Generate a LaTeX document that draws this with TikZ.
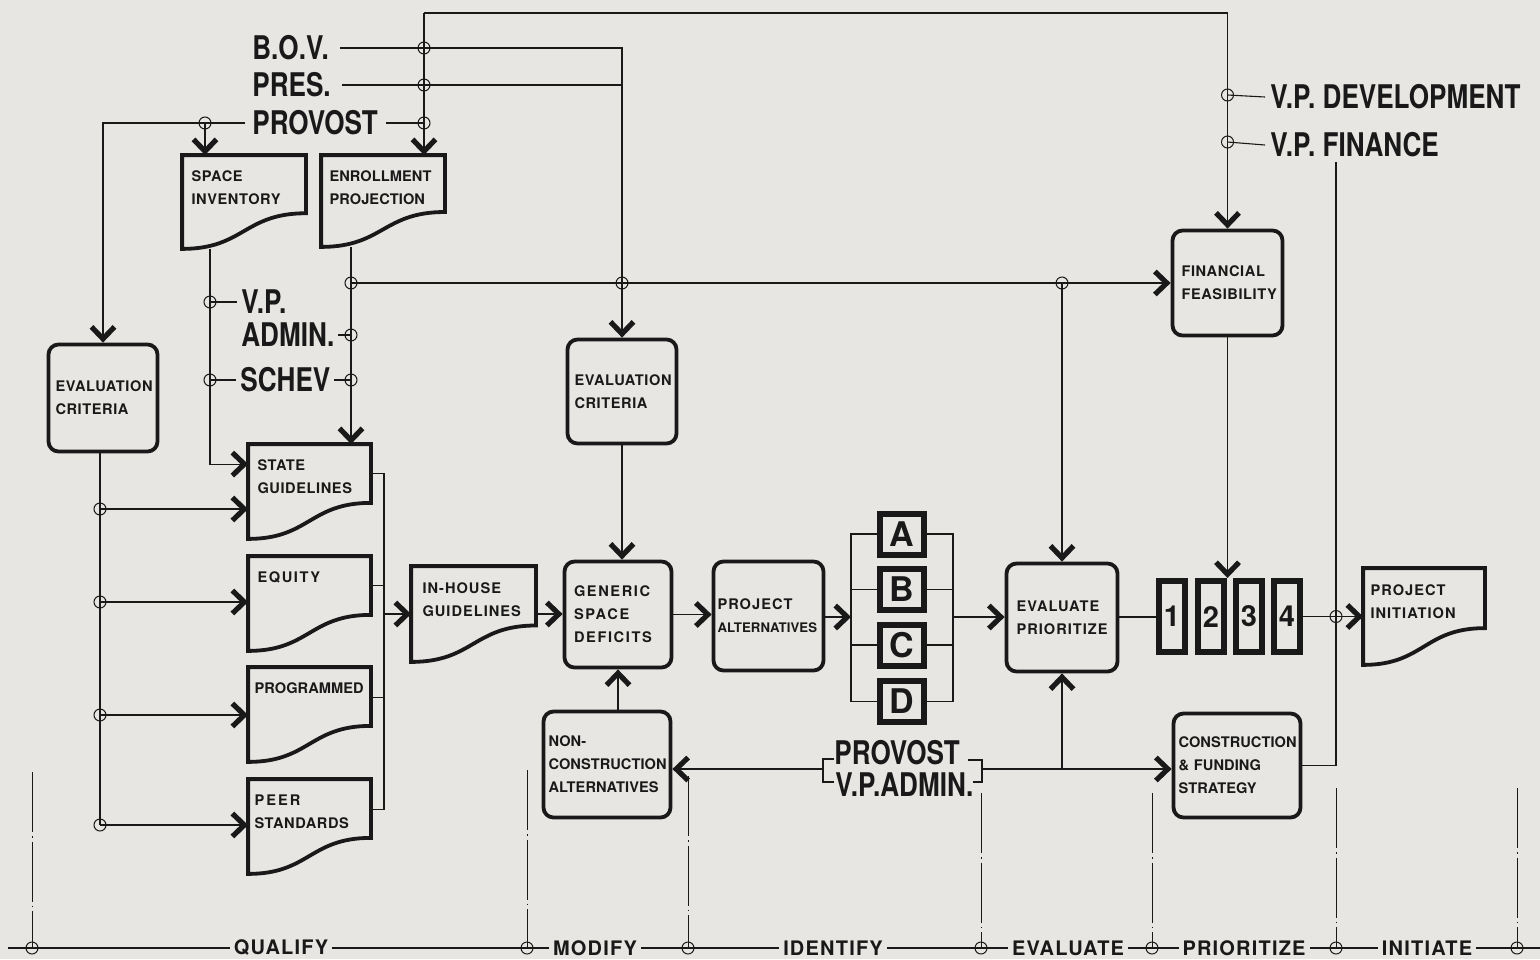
\documentclass[tikz,border=0pt]{standalone}
\usepackage{fontspec}
\setmainfont{TeX Gyre Heros}
\newfontfamily\bigf[FakeStretch=0.8]{TeX Gyre Heros}
\newfontfamily\boxf[LetterSpace=4]{TeX Gyre Heros}
\newfontfamily\boxw[LetterSpace=11]{TeX Gyre Heros}
\newfontfamily\boxm[LetterSpace=7]{TeX Gyre Heros}
\newfontfamily\boxt[LetterSpace=0.5]{TeX Gyre Heros}
\newfontfamily\phf[LetterSpace=6]{TeX Gyre Heros}
\usetikzlibrary{arrows.meta,calc}
\definecolor{bg}{RGB}{231,230,226}
\definecolor{ink}{RGB}{25,25,25}
\newcommand\docpath[1]{%
 \path ($(#1.north east)!0.62!(#1.south east)$) coordinate (#1-r)
       ($(#1.north west)!0.5!(#1.north east)$) coordinate (#1-m);
 \draw[docl] (#1.north west) -- (#1.north east) -- (#1-r)
   .. controls (#1-m |- #1-r) and (#1-m |- #1.south) .. (#1.south west) -- cycle;}
\begin{document}
\begin{tikzpicture}[x=0.5pt,y=-0.5pt,
 conn/.style={draw=ink, line width=0.55pt},
 arr/.style={-{Straight Barb[length=6pt,width=11.5pt,line width=2.6pt]}},
 fn/.style={font=\boxf\bfseries\fontsize{7.3}{11.5}\selectfont},
 fw/.style={font=\boxw\bfseries\fontsize{7.3}{11.5}\selectfont},
 fm/.style={font=\boxm\bfseries\fontsize{7.3}{11.5}\selectfont},
 ft/.style={font=\boxt\bfseries\fontsize{7.3}{11.5}\selectfont},
 bx/.style={draw=ink, line width=1.9pt, rounded corners=5pt, inner sep=0pt, align=left, text=ink},
 docn/.style={inner sep=0pt, draw=none},
 docl/.style={draw=ink, line width=1.9pt, line join=miter},
 lbl/.style={inner sep=0pt, align=left, text=ink, anchor=north west},
 big/.style={inner sep=0pt, anchor=west, font=\bigf\bfseries\fontsize{16.3}{14}\selectfont, text=ink},
 jn/.style={circle, draw=ink, line width=0.5pt, minimum size=6pt, inner sep=0pt},
 sq/.style={draw=ink, line width=3pt, inner sep=0pt, minimum width=22pt, minimum height=20.5pt, font=\bfseries\fontsize{17}{17}\selectfont, text=ink},
 nb/.style={draw=ink, line width=3pt, inner sep=0pt, minimum width=13pt, minimum height=35.5pt, font=\bfseries\fontsize{14.5}{14.5}\selectfont, text=ink},
 phase/.style={fill=bg, inner xsep=2pt, inner ysep=1pt, font=\phf\bfseries\fontsize{10}{12}\selectfont, text=ink},
 sep/.style={draw=ink, line width=0.5pt, dash pattern=on 30pt off 2pt on 0.8pt off 2pt},
]
\fill[bg] (0,0) rectangle (1540,959);
\useasboundingbox (0,0) rectangle (1540,959);

% ---------- big labels ----------
\node[big] (bov) at (252,48) {B.O.V.};
\node[big] (pres) at (252,85) {PRES.};
\node[big] (provt) at (252,123) {PROVOST};
\node[big] (vpa) at (241,302) {V.P.};
\node[big] (adm) at (241,335) {ADMIN.};
\node[big] (schev) at (240,380) {SCHEV};
\node[big] (vpdev) at (1270,97) {V.P\kern-1.2pt. DEVELOPMENT};
\node[big] (vpfin) at (1270,145) {V.P\kern-1.2pt. FINANCE};
\node[big] (bprov) at (834,753) {PROVOST};
\node[big] (bvpa) at (835,785) {V.P.ADMIN.};

% ---------- rounded boxes ----------
\node[bx, fn, minimum width=54.5pt, minimum height=53.5pt, text width=47.5pt] (ec1) at (103,398) {EVALUATION\\CRITERIA};
\node[bx, fn, minimum width=54.5pt, minimum height=52pt, text width=47.5pt] (ec2) at (622,391.5) {EVALUATION\\CRITERIA};
\node[bx, fw, minimum width=53.5pt, minimum height=53pt, text width=44pt] (gsd) at (618,614.5) {GENERIC\\SPACE\\DEFICITS};
\node[bx, fm, minimum width=55pt, minimum height=54.5pt, text width=51pt] (pa) at (768.5,616) {PROJECT\\{\boxt\fontsize{6.6}{11.5}\selectfont ALTERNATIVES}};
\node[bx, fm, minimum width=55.5pt, minimum height=54pt, text width=45.5pt] (evp) at (1062,617.5) {EVALUATE\\PRIORITIZE};
\node[bx, fn, minimum width=55pt, minimum height=52.5pt, text width=46pt] (ff) at (1227.5,283) {FINANCIAL\\FEASIBILITY};
\node[bx, ft, minimum width=63.5pt, minimum height=52pt, text width=58.5pt] (cfs) at (1237,765.5) {CONSTRUCTION\\\& FUNDING\\STRATEGY};
\node[bx, ft, minimum width=63.5pt, minimum height=53pt, text width=58.5pt] (nca) at (607,764.5) {NON-\\CONSTRUCTION\\ALTERNATIVES};

% ---------- document shapes ----------
\node[docn, minimum width=61.5pt, minimum height=46.5pt] (si) at (244,202) {};
\node[docn, minimum width=61.5pt, minimum height=45.5pt] (ep) at (383,201) {};
\node[docn, minimum width=61pt, minimum height=47pt] (sg) at (309.5,491.5) {};
\node[docn, minimum width=61pt, minimum height=47pt] (eq) at (309.5,603.5) {};
\node[docn, minimum width=61pt, minimum height=47pt] (pr) at (309.5,714.5) {};
\node[docn, minimum width=61pt, minimum height=47pt] (ps) at (309.5,826.5) {};
\node[docn, minimum width=62pt, minimum height=47.5pt] (ih) at (473.5,614) {};
\node[docn, minimum width=60.5pt, minimum height=48pt] (pi) at (1424,616.5) {};
\foreach \d in {si,ep,sg,eq,pr,ps,ih,pi} {\docpath{\d}}
\node[lbl, fn] (si-t) at ([xshift=4.5pt,yshift=-7.5pt]si.north west) {SPACE\\INVENTORY};
\node[lbl, ft] (ep-t) at ([xshift=4pt,yshift=-7.5pt]ep.north west) {ENROLLMENT\\PROJECTION};
\node[lbl, fn] (sg-t) at ([xshift=4.5pt,yshift=-7.5pt]sg.north west) {STATE\\GUIDELINES};
\node[lbl, fw] (eq-t) at ([xshift=4.5pt,yshift=-7.5pt]eq.north west) {EQUITY};
\node[lbl, ft] (pr-t) at ([xshift=3pt,yshift=-7.5pt]pr.north west) {PROGRAMMED};
\node[lbl, fn] (ps-t) at ([xshift=3pt,yshift=-7.5pt]ps.north west) {\addfontfeature{LetterSpace=14}PEER\\STANDARDS};
\node[lbl, fm] (ih-t) at ([xshift=5.5pt,yshift=-8pt]ih.north west) {IN-HOUSE\\GUIDELINES};
\node[lbl, fm] (pi-t) at ([xshift=3.5pt,yshift=-8pt]pi.north west) {PROJECT\\INITIATION};

% ---------- A-D and 1-4 ----------
\node[sq] (a) at (902,534) {A};
\node[sq] (b) at (902,589.5) {B};
\node[sq] (c) at (902,645) {C};
\node[sq] (d) at (902,701.5) {D};
\node[nb] (n1) at (1172,616.5) {1};
\node[nb] (n2) at (1211,616.5) {2};
\node[nb] (n3) at (1249,616.5) {3};
\node[nb] (n4) at (1287,616.5) {4};

% ---------- junction circles ----------
\foreach \n/\x/\y in {j424a/424/48, j424b/424/85, j424c/424/123, j206/205/123,
  j210a/210/302, j210b/210/380, j351a/351/335, j351b/351/380, j351c/351/283,
  j622/622/283, j1062/1062/283, jd/1227.5/95, jf/1227.5/142,
  jq1/100/509, jq2/100/602, jq3/100/715, jq4/100/825, jpi/1336/616.5}
  \node[jn] (\n) at (\x,\y) {};

% ---------- connectors: top ----------
\coordinate (t424) at (424,13);
\draw[conn,arr] (t424) -- (t424 |- ep.north);
\draw[conn,arr] (t424) -| (ff.north);
\draw[conn,arr] ([xshift=5.5pt]bov.east) -| (ec2.north);
\draw[conn] ([xshift=5.5pt]pres.east) -- (pres.east -| ec2.north);
\draw[conn] ([xshift=4pt]provt.east) -- (j424c.center);
\draw[conn,arr] ([xshift=-3.5pt]provt.west) -| (ec1.north);
\draw[conn,arr] (j206.center) -- (j206 |- si.north);
\draw[conn,arr] (j210a |- si.south) |- ([yshift=-10pt]sg.north west);
\draw[conn] (j210a.center) -- ([xshift=-2pt]vpa.west);
\draw[conn] ([xshift=1.5pt]adm.east) -- (j351a.center);
\draw[conn] (j210b.center) -- ([xshift=-2pt]schev.west);
\draw[conn] ([xshift=1.5pt]schev.east) -- (j351b.center);
\draw[conn,arr] (j351c |- ep.south) -- (j351c |- sg.north);
\draw[conn,arr] (j351c.center) -- (ff.west);
\draw[conn,arr] (j1062.center) -- (evp.north);
\draw[conn,arr] (ec2.south) -- (ec2.south |- gsd.north);
\draw[conn] (jd.center) -- ([xshift=-2.5pt]vpdev.west);
\draw[conn] (jf.center) -- ([xshift=-2.5pt]vpfin.west);

% ---------- left column ----------
\draw[conn] (jq1 |- ec1.south) -- (jq4.center);
\foreach \j/\d in {jq1/sg, jq2/eq, jq3/pr, jq4/ps}
  \draw[conn,arr] (\j.center) -- (\j -| \d.west);
\coordinate (sgo) at ([yshift=-14.5pt]sg.north east);
\coordinate (eqo) at ([yshift=-14.5pt]eq.north east);
\coordinate (pro) at ([yshift=-15pt]pr.north east);
\coordinate (pso) at ([yshift=-15pt]ps.north east);
\coordinate (qb) at (384,614);
\draw[conn] (sgo) -| (qb |- pso) -- (pso);
\draw[conn] (eqo) -- (eqo -| qb);
\draw[conn] (pro) -- (pro -| qb);
\draw[conn,arr] (qb) -- (qb -| ih.west);

% ---------- main flow ----------
\draw[conn,arr] (ih.east) -- (ih.east -| gsd.west);
\draw[conn,arr] (gsd.east) -- (gsd.east -| pa.west);
\coordinate (abl) at (851,617);
\coordinate (abr) at (953,617);
\draw[conn,arr] (pa.east |- abl) -- (abl);
\draw[conn] (a.west) -| (abl |- d.west) -- (d.west);
\draw[conn] (b.west) -- (b.west -| abl);
\draw[conn] (c.west) -- (c.west -| abl);
\draw[conn] (a.east) -| (abr |- d.east) -- (d.east);
\draw[conn] (b.east) -- (b.east -| abr);
\draw[conn] (c.east) -- (c.east -| abr);
\draw[conn,arr] (abr) -- (abr -| evp.west);
\draw[conn] (evp.east |- abr) -- (abr -| n1.west);
\draw[conn,arr] (ff.south) -- (ff.south |- n2.north);
\draw[conn,arr] (n4.east) -- (n4.east -| pi.west);
\coordinate (fin) at (1336,162);
\draw[conn] (cfs.east) -| (fin);
\draw[conn,arr] (gsd.south |- nca.north) -- (gsd.south);

% ---------- bottom bracket ----------
\coordinate (bl) at (823,769);
\coordinate (br) at (982,769);
\draw[conn] (834,759) -- (823,759) -- (823,782) -- (834,782);
\draw[conn] (968,760) -- (982,760) -- (982,782) -- (973,782);
\draw[conn,arr] (bl) -- (bl -| nca.east);
\draw[conn,arr] (br) -- (br -| cfs.west);
\draw[conn,arr] (br -| evp.south) -- (evp.south);

% ---------- phase line ----------
\draw[conn] (8,948) -- (1540,948);
\foreach \x/\yt in {32/772, 527/770, 688/776, 981/793, 1152/793, 1336/788, 1517/788} {
  \draw[sep] (\x,\yt) -- (\x,948);
  \node[jn] (p\x) at (\x,948) {};
}
\node[phase] (ph1) at (281,948) {QUALIFY};
\node[phase] (ph2) at (595,948) {MODIFY};
\node[phase] (ph3) at (833,948) {IDENTIFY};
\node[phase] (ph4) at (1068,948) {EVALUATE};
\node[phase] (ph5) at (1244,948) {PRIORITIZE};
\node[phase] (ph6) at (1427,948) {INITIATE};
\end{tikzpicture}
\end{document}
